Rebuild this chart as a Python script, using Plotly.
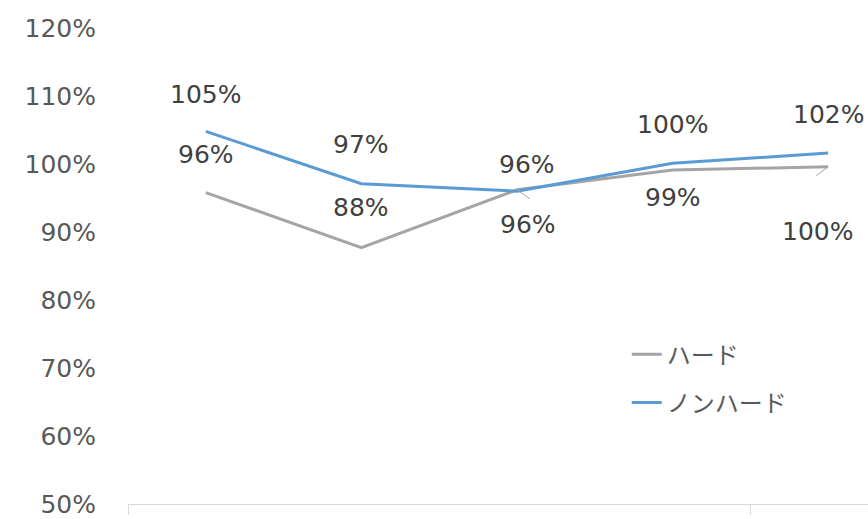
import plotly.graph_objects as go

# Ratio series (1.0 = 100%)
positions = [0, 1, 2, 3, 4]
hard = [0.958, 0.877, 0.962, 0.991, 0.996]
nonhard = [1.048, 0.971, 0.960, 1.001, 1.016]
series_names = ["ハード", "ノンハード"]
y_ticks = [0.5, 0.6, 0.7, 0.8, 0.9, 1.0, 1.1, 1.2]

GRAY = "#A5A5A5"
BLUE = "#5B9BD5"
TEXT = "#404040"
FONT = "DejaVu Sans, Noto Sans CJK JP, sans-serif"
SIZE = 25

fig = go.Figure()
fig.add_trace(go.Scatter(x=positions, y=hard, mode="lines", name=series_names[0],
                         legendgroup="a", line=dict(color=GRAY, width=3), hoverinfo="skip"))
fig.add_trace(go.Scatter(x=positions, y=nonhard, mode="lines", name=series_names[1],
                         legendgroup="b", line=dict(color=BLUE, width=3), hoverinfo="skip"))

# Data label offsets in pixels (x, y) for each point
hard_offsets = [(0, 38), (0, 40), (11, -35), (0, -27), (-11, -65)]
nonhard_offsets = [(0, 37), (0, 39), (10, 27), (0, 39), (0, 39)]

for xs, vals, offs in ((positions, hard, hard_offsets), (positions, nonhard, nonhard_offsets)):
    for x, v, (dx, dy) in zip(xs, vals, offs):
        fig.add_annotation(x=x, y=v, text=f"{v:.0%}", showarrow=False,
                           xshift=dx, yshift=dy,
                           font=dict(family=FONT, size=SIZE, color=TEXT))

# Leader lines for the labels pushed away from their points
for x, v, (lx, ly) in ((positions[2], hard[2], (13, -9)), (positions[4], hard[4], (-12, -9))):
    fig.add_shape(type="line", xref="x", yref="y",
                  xsizemode="pixel", ysizemode="pixel",
                  xanchor=x, yanchor=v, x0=0, x1=lx, y0=0, y1=ly,
                  line=dict(color=GRAY, width=1))

fig.update_layout(
    width=868, height=519,
    margin=dict(l=128, r=0, t=28, b=12),
    paper_bgcolor="white", plot_bgcolor="white",
    font=dict(family=FONT, color="#595959"),
    showlegend=True,
    legend=dict(x=0.674, y=0.361, xanchor="left", yanchor="top",
                bgcolor="rgba(0,0,0,0)", font=dict(family=FONT, size=SIZE - 1, color="#595959"),
                tracegroupgap=14, itemwidth=30),
)
fig.update_xaxes(range=[-0.5, 4.256], showgrid=False, zeroline=False,
                 showline=True, linecolor="#D9D9D9", linewidth=1,
                 tickmode="array", tickvals=[-0.5, 3.5], ticktext=["", ""],
                 ticks="outside", ticklen=10, tickcolor="#D9D9D9", tickwidth=1)
fig.update_yaxes(range=[0.5, 1.2], tickvals=y_ticks, tickformat=".0%",
                 showgrid=False, zeroline=False, showline=False,
                 ticklabelstandoff=31, ticklabeloverflow="allow",
                 tickfont=dict(family=FONT, size=SIZE, color="#595959"))

fig.write_html("out.html")
